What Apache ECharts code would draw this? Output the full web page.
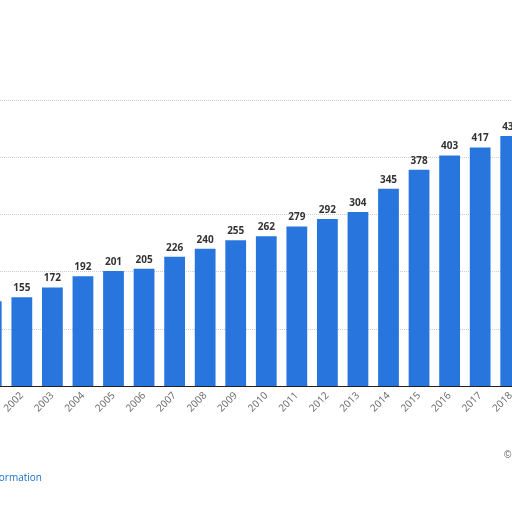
<!DOCTYPE html><html><head><meta charset="utf-8"><script src="https://cdn.jsdelivr.net/npm/echarts@6/dist/echarts.min.js"></script>
<style>html,body{margin:0;padding:0;background:#fff}#c{width:512px;height:512px}</style></head><body><div id="c"></div><script>
const years=['2001','2002','2003','2004','2005','2006','2007','2008','2009','2010','2011','2012','2013','2014','2015','2016','2017','2018'];
const values=[148,155,172,192,201,205,226,240,255,262,279,292,304,345,378,403,417,437];
const chart=echarts.init(document.getElementById('c'));
chart.setOption({animation:false,
grid:{left:-24,right:-14,top:100,bottom:126,containLabel:false,outerBoundsMode:'none'},
xAxis:{type:'category',data:years,axisTick:{show:false},axisLine:{lineStyle:{color:'#222',width:1}},
 axisLabel:{rotate:45,color:'#666',fontSize:10,fontFamily:'Open Sans',margin:8,interval:0}},
yAxis:{type:'value',min:0,max:500,interval:100,axisLabel:{show:false},axisLine:{show:false},axisTick:{show:false},
 splitLine:{lineStyle:{type:'dotted',color:'#ccc'}}},
series:[{type:'bar',data:values,barWidth:'68%',itemStyle:{color:'#2876dd'},
 label:{show:true,position:'top',color:'#333',fontWeight:'bold',fontSize:10,fontFamily:'Open Sans',distance:4}}],
graphic:[{type:'text',right:470,top:473,style:{text:'Additional Information',fill:'#1a73c8',fontSize:10,fontFamily:'Open Sans'}},
 {type:'text',left:504,top:450,style:{text:'©',fill:'#666',fontSize:10}}]
});
</script></body></html>
